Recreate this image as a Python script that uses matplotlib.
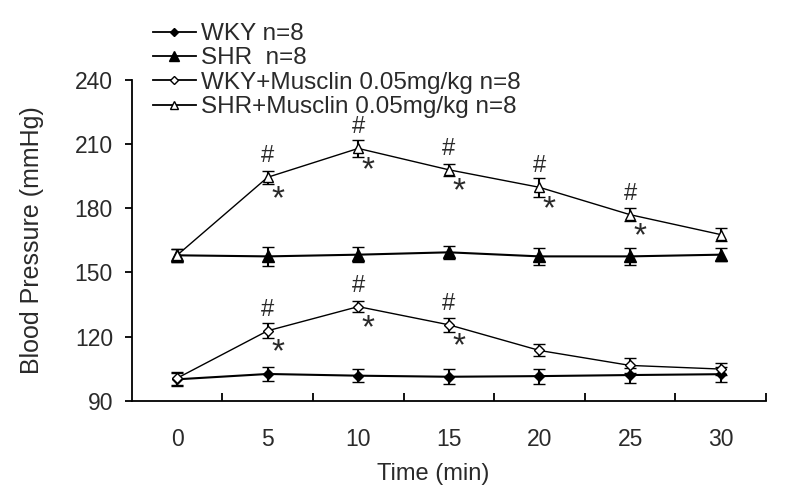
import numpy as np
from matplotlib import pyplot as plt
from matplotlib.lines import Line2D

# time points (min)
times = ["0", "5", "10", "15", "20", "25", "30"]

# mean blood pressure (mmHg) and SEM for each group
wky = [100, 102.5, 101.7, 101.2, 101.5, 102, 102.4]
wky_err = [3, 3.4, 3, 3.5, 3.5, 3.5, 3.5]
shr = [158, 157.5, 158.3, 159.4, 157.5, 157.5, 158.3]
shr_err = [3, 4.5, 3.5, 3, 4, 4, 3]
wky_mus = [100.5, 122.7, 134, 125.5, 113.5, 106.5, 104.8]
wky_mus_err = [3, 3.6, 2.7, 3.4, 2.8, 3.4, 3]
shr_mus = [158, 194.5, 208, 198, 189.8, 177, 167.7]
shr_mus_err = [3, 3, 4, 2.7, 4.3, 3, 3]

labels = ["WKY n=8", "SHR  n=8",
          "WKY+Musclin 0.05mg/kg n=8", "SHR+Musclin 0.05mg/kg n=8"]

# which time points are marked with # and *
shr_mus_sig = [1, 2, 3, 4, 5]
wky_mus_sig = [1, 2, 3]

plt.rcParams['font.family'] = ['Liberation Sans', 'DejaVu Sans']
txt = '#2a2a2a'

fig = plt.figure(figsize=(7.87, 4.96), dpi=100)
ax = fig.add_axes([131.7/787, 1 - 400.7/496, (766 - 131.7)/787, (400.7 - 80)/496])

x = np.arange(len(times))

styles = [('D', 'black', 5, 1.5), ('^', 'black', 8, 1.5),
          ('D', 'white', 5, 1), ('^', 'white', 7, 1)]
handles = []
for (y, err), (marker, face, ms, lw) in zip(
        [(wky, wky_err), (shr, shr_err), (wky_mus, wky_mus_err), (shr_mus, shr_mus_err)], styles):
    ax.errorbar(x, y, yerr=err, color='black', marker=marker, markersize=ms,
                markerfacecolor=face, markeredgecolor='black', markeredgewidth=1,
                linewidth=lw, elinewidth=1.5, capsize=4, capthick=1.6)
    handles.append(Line2D([], [], color='black', marker=marker, markersize=ms - 1,
                          markerfacecolor=face, markeredgecolor='black', linewidth=1.3))

# significance marks
for vals, idx in [(shr_mus, shr_mus_sig), (wky_mus, wky_mus_sig)]:
    for i in idx:
        ax.annotate('#', (x[i], vals[i]), xytext=(0, 21), textcoords='offset pixels',
                    ha='center', va='center', fontsize=17, color=txt)
        ax.annotate('*', (x[i], vals[i]), xytext=(10, -22), textcoords='offset pixels',
                    ha='center', va='center', fontsize=24, color=txt)

ax.set_xlim(-0.5, 6.5)
ax.set_ylim(90, 240)
ax.set_yticks([90, 120, 150, 180, 210, 240])
ax.set_xticks(x)
ax.set_xticklabels(times)
ax.set_xticks(np.arange(0.5, 7, 1), minor=True)
ax.tick_params(axis='x', which='major', length=0, pad=19.5, labelsize=16.5, labelcolor=txt)
ax.tick_params(axis='x', which='minor', direction='in', length=6, width=1.3)
ax.tick_params(axis='y', direction='out', length=5, width=1.3, pad=8.5, labelsize=16.5, labelcolor=txt)

for s in ['top', 'right']:
    ax.spines[s].set_visible(False)
for s in ['left', 'bottom']:
    ax.spines[s].set_linewidth(1.3)

ax.set_ylabel('Blood Pressure (mmHg)', fontsize=18, color=txt)
ax.yaxis.set_label_coords(-0.138, 0.5)
fig.text(433/787, 1 - 474/496, 'Time (min)', ha='center', va='center', fontsize=17, color=txt)

leg = fig.legend(handles, labels, loc='upper left', bbox_to_anchor=(153/787, 1 - 23/496),
                 frameon=False, fontsize=17.5, handlelength=1.75, handletextpad=0.22,
                 labelspacing=0.1, borderaxespad=0, borderpad=0)
for t in leg.get_texts():
    t.set_color(txt)

plt.savefig('out.png', dpi=100)
